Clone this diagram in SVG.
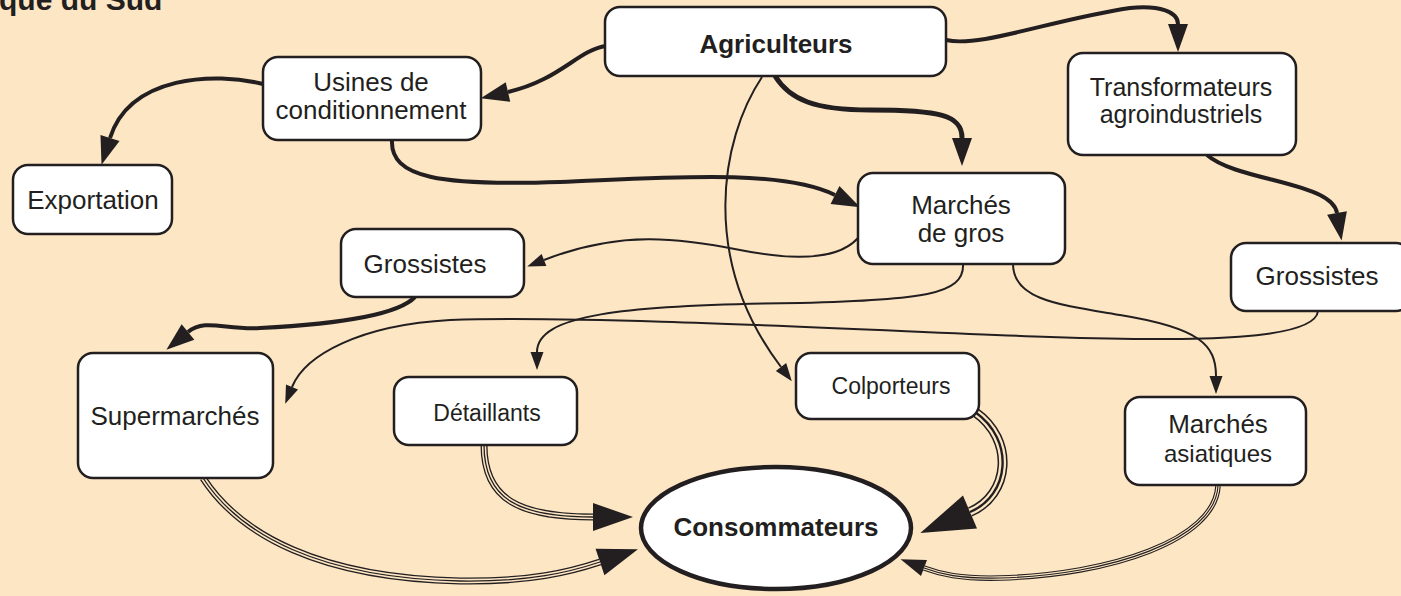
<svg xmlns="http://www.w3.org/2000/svg" width="1401" height="596" viewBox="0 0 1401 596">
<style>
.node{fill:#fff;stroke:#231f20;stroke-width:2.5}
.t{font-family:"Liberation Sans",Arial,sans-serif;font-size:26px;fill:#231f20;text-anchor:middle}
.b{font-weight:bold}
.sm{font-size:23px}
.c{fill:none;stroke:#231f20;stroke-linecap:butt}
.thin{stroke-width:2}
.thick{stroke-width:4}
.thicker{stroke-width:5}
.gap{fill:none;stroke:#fde6c4}
</style>
<defs>
<marker id="mThin" markerUnits="userSpaceOnUse" orient="auto" refX="0" refY="0" overflow="visible"><path d="M0,-6.5 L18,0 L0,6.5 z" fill="#231f20"/></marker>
<marker id="mThick" markerUnits="userSpaceOnUse" orient="auto" refX="0" refY="0" overflow="visible"><path d="M0,-10 L28,0 L0,10 z" fill="#231f20"/></marker>
<marker id="mTrip" markerUnits="userSpaceOnUse" orient="auto" refX="0" refY="0" overflow="visible"><path d="M0,-14 L40,0 L0,14 z" fill="#231f20"/></marker>
<marker id="mHuge" markerUnits="userSpaceOnUse" orient="auto" refX="0" refY="0" overflow="visible"><path d="M0,-18 L54,0 L0,18 z" fill="#231f20"/></marker>
<marker id="mSmall" markerUnits="userSpaceOnUse" orient="auto" refX="0" refY="0" overflow="visible"><path d="M0,-8.5 L25,0 L0,8.5 z" fill="#231f20"/></marker>
</defs>
<rect x="0" y="0" width="1401" height="596" fill="#fde6c4"/>
<text x="-1" y="10" class="t b" style="text-anchor:start;font-size:30px">que du Sud</text>

<g id="connectors">
<path class="c thick" d="M606,46 C578,50 560,80 508,92" marker-end="url(#mThick)"/>
<path class="c thick" d="M263,84 C215,72 130,75 110,138" marker-end="url(#mThick)"/>
<path class="c thick" d="M392,140 C390,178 440,186 560,182 C660,178 780,168 835,195" marker-end="url(#mThick)"/>
<path class="c thicker" d="M775,76 C790,100 815,110 870,110 C940,110 962,115 962,138" marker-end="url(#mThick)"/>
<path class="c thick" d="M946,40 C980,48 1050,20 1130,8 C1160,5 1178,12 1178,24" marker-end="url(#mThick)"/>
<path class="c thick" d="M1207,155 C1230,175 1290,180 1320,195 C1332,201 1336,207 1337,213" marker-end="url(#mThick)"/>
<path class="c thick" d="M415,297 C395,318 320,325 260,328 C225,330 205,318 188,332" marker-end="url(#mThick)"/>
<path class="c thin" d="M858,238 C840,258 800,262 740,250 C680,238 620,230 544,260" marker-end="url(#mThin)"/>
<path class="c thin" d="M762,77 C720,140 700,260 781,367" marker-end="url(#mThin)"/>
<path class="c thin" d="M963,264 C965,295 920,300 800,303 C620,305 537,315 537,352" marker-end="url(#mThin)"/>
<path class="c thin" d="M1013,264 C1013,300 1060,305 1120,315 C1200,328 1216,345 1216,376" marker-end="url(#mThin)"/>
<path class="c thin" d="M1318,311 C1315,340 1200,342 1050,337 C900,332 600,315 450,320 C360,325 305,355 292,387" marker-end="url(#mThin)"/>
<path class="c" stroke-width="7" d="M203,478 C240,535 320,578 460,581 C530,582 570,572 600,562" marker-end="url(#mTrip)"/>
<path class="gap" stroke-width="4.4" d="M203,478 C240,535 320,578 460,581 C530,582 570,572 600,562"/>
<path class="c" stroke-width="1.3" d="M203,478 C240,535 320,578 460,581 C530,582 570,572 600,562"/>
<path class="c" stroke-width="7" d="M484,445 C484,500 520,517 593,517" marker-end="url(#mTrip)"/>
<path class="gap" stroke-width="4.4" d="M484,445 C484,500 520,517 593,517"/>
<path class="c" stroke-width="1.3" d="M484,445 C484,500 520,517 593,517"/>
<path class="c" stroke-width="10" d="M975,412 C1015,440 1010,495 970,512" marker-end="url(#mHuge)"/>
<path class="gap" stroke-width="7" d="M975,412 C1015,440 1010,495 970,512"/>
<path class="c" stroke-width="2.4" d="M975,412 C1015,440 1010,495 970,512"/>
<path class="c" stroke-width="5.5" d="M1218,486 C1215,540 1110,575 1000,578 C960,579 940,574 924,568" marker-end="url(#mSmall)"/>
<path class="gap" stroke-width="3.3" d="M1218,486 C1215,540 1110,575 1000,578 C960,579 940,574 924,568"/>
<path class="c" stroke-width="1.1" d="M1218,486 C1215,540 1110,575 1000,578 C960,579 940,574 924,568"/>
</g>

<g id="agriculteurs"><rect class="node" x="605" y="7" width="341" height="69" rx="15"/><text class="t b" x="776" y="53">Agriculteurs</text></g>
<g id="usines"><rect class="node" x="263" y="57" width="218" height="83" rx="15"/><text class="t" x="371" y="91">Usines de</text><text class="t" x="371" y="119">conditionnement</text></g>
<g id="exportation"><rect class="node" x="13" y="165" width="159" height="69" rx="15"/><text class="t" x="93" y="209">Exportation</text></g>
<g id="transformateurs"><rect class="node" x="1068" y="53" width="228" height="102" rx="15"/><text class="t" x="1181" y="96" style="font-size:25px">Transformateurs</text><text class="t" x="1181" y="123" style="font-size:25px">agroindustriels</text></g>
<g id="marches-gros"><rect class="node" x="858" y="173" width="207" height="91" rx="15"/><text class="t" x="961" y="214">Marchés</text><text class="t" x="961" y="242">de gros</text></g>
<g id="grossistes-g"><rect class="node" x="341" y="229" width="183" height="68" rx="15"/><text class="t" x="425" y="273">Grossistes</text></g>
<g id="grossistes-d"><rect class="node" x="1231" y="243" width="180" height="68" rx="15"/><text class="t" x="1317" y="285">Grossistes</text></g>
<g id="supermarches"><rect class="node" x="78" y="353" width="195" height="125" rx="15"/><text class="t" x="175" y="425">Supermarchés</text></g>
<g id="detaillants"><rect class="node" x="394" y="377" width="183" height="68" rx="15"/><text class="t sm" x="487" y="421">Détaillants</text></g>
<g id="colporteurs"><rect class="node" x="796" y="353" width="183" height="66" rx="15"/><text class="t sm" x="891" y="394">Colporteurs</text></g>
<g id="marches-asiatiques"><rect class="node" x="1125" y="397" width="181" height="88" rx="15"/><text class="t" x="1218" y="433">Marchés</text><text class="t" x="1218" y="462" style="font-size:24px">asiatiques</text></g>
<g id="consommateurs"><ellipse cx="776" cy="528" rx="135" ry="61" fill="#fff" stroke="#231f20" stroke-width="4.5"/><text class="t b" x="776" y="536">Consommateurs</text></g>
</svg>
